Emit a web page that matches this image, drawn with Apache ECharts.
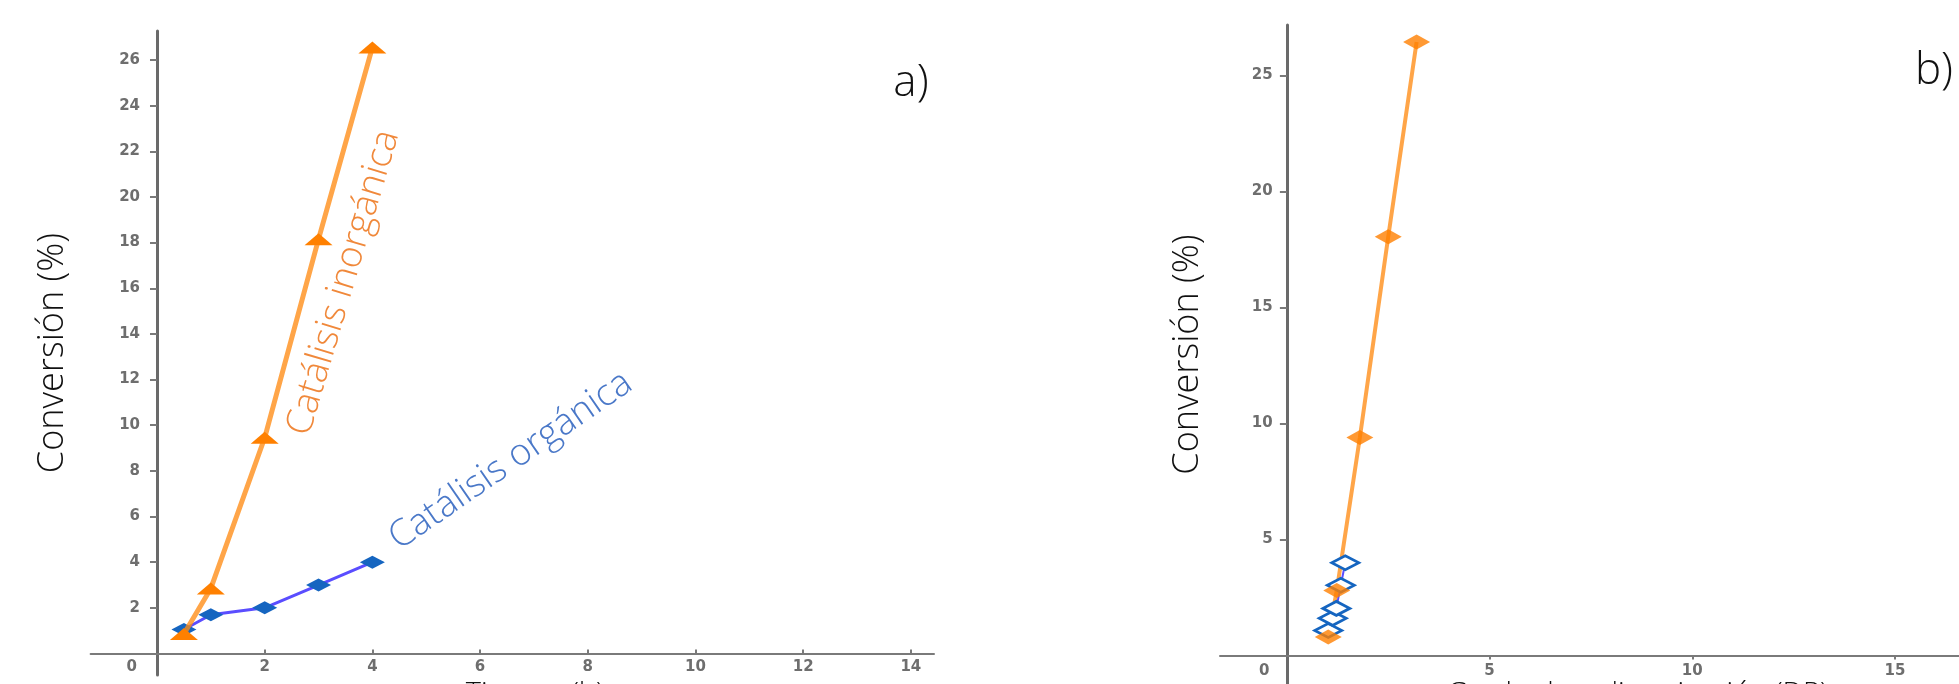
<!DOCTYPE html>
<html>
<head>
<meta charset="utf-8">
<script src="https://cdn.jsdelivr.net/npm/echarts@6/dist/echarts.min.js"></script>
<style>
  html, body { margin: 0; padding: 0; background: #fff; }
  #chart { width: 1959px; height: 684px; }
</style>
</head>
<body>
<div id="chart"></div>
<script>
// ---- data ----
const tiempoH = [0.5, 1, 2, 3, 4];                 // panel a) x values (h)
const convInorganica = [0.85, 2.85, 9.45, 18.15, 26.55]; // %
const convOrganica = [1.05, 1.7, 2.0, 3.0, 4.0];        // %
const dpInorganica = [1.02, 1.23, 1.8, 2.5, 3.2];       // panel b) x values (DP)
const dpOrganica = [1.02, 1.13, 1.22, 1.33, 1.44];
const convInorganicaB = [0.8, 2.8, 9.4, 18.05, 26.45];
const convOrganicaB = [1.08, 1.6, 2.03, 3.03, 4.0];
const xTicksA = [2, 4, 6, 8, 10, 12, 14];
const yTicksA = [2, 4, 6, 8, 10, 12, 14, 16, 18, 20, 22, 24, 26];
const xTicksB = [5, 10, 15];
const yTicksB = [5, 10, 15, 20, 25];
const labelA = 'Catálisis inorgánica';
const labelB = 'Catálisis orgánica';

const zip = (xs, ys) => xs.map((x, i) => [x, ys[i]]);

const tickFont = { fontFamily: 'DejaVu Sans', fontWeight: 'bold', fontSize: 15, color: '#6e6e6e' };
const titleFont = { fontFamily: 'Open Sans', fontWeight: 300, color: '#111' };
const axisGray = '#7a7a7a';

function xAxisCfg(grid, min, max, ticks, originAt, name, nameGap, namePad, labelMargin, tickInside) {
  return {
    type: 'value', gridIndex: grid, min: min, max: max,
    splitLine: { show: false },
    axisLine: { show: true, onZero: true, lineStyle: { color: axisGray, width: 2 } },
    axisTick: { show: true, customValues: ticks, inside: tickInside, length: 4, lineStyle: { color: axisGray, width: 2 } },
    axisLabel: Object.assign({
      customValues: [originAt].concat(ticks), margin: labelMargin,
      formatter: v => (v < 0 ? '0' : String(v))
    }, tickFont),
    name: name, nameLocation: 'middle', nameGap: nameGap, nameMoveOverlap: false,
    nameTextStyle: Object.assign({ fontSize: 29, padding: [0, 0, 0, namePad] }, titleFont)
  };
}
function yAxisCfg(grid, min, max, ticks, nameGap, labelMargin) {
  return {
    type: 'value', gridIndex: grid, min: min, max: max,
    splitLine: { show: false },
    axisLine: { show: true, onZero: true, lineStyle: { color: '#6a6a6a', width: 3 } },
    axisTick: { show: true, customValues: ticks, length: 7, lineStyle: { color: axisGray, width: 2 } },
    axisLabel: Object.assign({ customValues: ticks, margin: labelMargin }, tickFont),
    name: 'Conversión (%)', nameLocation: 'middle', nameGap: nameGap, nameRotate: 90, nameMoveOverlap: false,
    nameTextStyle: Object.assign({ fontSize: 36 }, titleFont)
  };
}

const chart = echarts.init(document.getElementById('chart'), null, { renderer: 'canvas' });
const option = {
  animation: false,
  backgroundColor: '#fff',
  grid: [
    { left: 90.6, top: 31, width: 843.4, height: 644, outerBoundsMode: 'none', containLabel: false },
    { left: 1220, top: 25, width: 739, height: 659, outerBoundsMode: 'none', containLabel: false }
  ],
  xAxis: [
    xAxisCfg(0, -1.233, 14.43, xTicksA, -0.47, 'Tiempo (h)', 5, 45, -15, true),
    xAxisCfg(1, -1.65, 16.58, xTicksB, -0.56, 'Grado de polimerización (DP)', -4, 96, -20, false)
  ],
  yAxis: [
    yAxisCfg(0, -0.942, 27.27, yTicksA, 20, -49.4),
    yAxisCfg(1, -1.23, 27.18, yTicksB, 14.5, -52.6)
  ],
  series: [
    {
      type: 'line', xAxisIndex: 0, yAxisIndex: 0, z: 2,
      data: zip(tiempoH, convOrganica),
      symbol: 'diamond', symbolSize: [25, 13],
      itemStyle: { color: '#1565c0' },
      lineStyle: { color: '#5a4dff', width: 3 }
    },
    {
      type: 'line', xAxisIndex: 0, yAxisIndex: 0, z: 3,
      data: zip(tiempoH, convInorganica),
      symbol: 'triangle', symbolSize: [28, 12],
      itemStyle: { color: '#ff8000' },
      lineStyle: { color: 'rgba(255,140,20,0.78)', width: 5 }
    },
    {
      type: 'line', xAxisIndex: 1, yAxisIndex: 1, z: 2,
      data: zip(dpInorganica, convInorganicaB),
      symbol: 'none',
      lineStyle: { color: 'rgba(255,140,20,0.78)', width: 4 }
    },
    {
      type: 'line', xAxisIndex: 1, yAxisIndex: 1, z: 3,
      data: zip(dpOrganica, convOrganicaB),
      symbol: 'diamond', symbolSize: [27, 14],
      itemStyle: { color: '#ffffff', borderColor: '#1565c0', borderWidth: 3 },
      lineStyle: { color: '#5a4dff', width: 2 }
    },
    {
      type: 'scatter', xAxisIndex: 1, yAxisIndex: 1, z: 4,
      data: zip(dpInorganica, convInorganicaB),
      symbol: 'diamond', symbolSize: [27, 15],
      itemStyle: { color: '#ff8000' }
    }
  ],
  graphic: [
    { type: 'text', x: 343.5, y: 282.7, rotation: 73.5 * Math.PI / 180,
      style: { text: labelA, fontFamily: 'Open Sans', fontWeight: 300, fontSize: 37, fill: '#f0883a',
               align: 'center', verticalAlign: 'middle', textAlign: 'center', textVerticalAlign: 'middle' } },
    { type: 'text', x: 510.7, y: 460.7, rotation: 34.6 * Math.PI / 180,
      style: { text: labelB, fontFamily: 'Open Sans', fontWeight: 300, fontSize: 37, fill: '#4a78c8',
               align: 'center', verticalAlign: 'middle', textAlign: 'center', textVerticalAlign: 'middle' } },
    { type: 'text', x: 911, y: 83,
      style: { text: 'a)', fontFamily: 'Open Sans', fontWeight: 300, fontSize: 44, fill: '#111',
               align: 'center', verticalAlign: 'middle', textAlign: 'center', textVerticalAlign: 'middle' } },
    { type: 'text', x: 1934, y: 71,
      style: { text: 'b)', fontFamily: 'Open Sans', fontWeight: 300, fontSize: 44, fill: '#111',
               align: 'center', verticalAlign: 'middle', textAlign: 'center', textVerticalAlign: 'middle' } }
  ]
};
chart.setOption(option);
</script>
</body>
</html>
